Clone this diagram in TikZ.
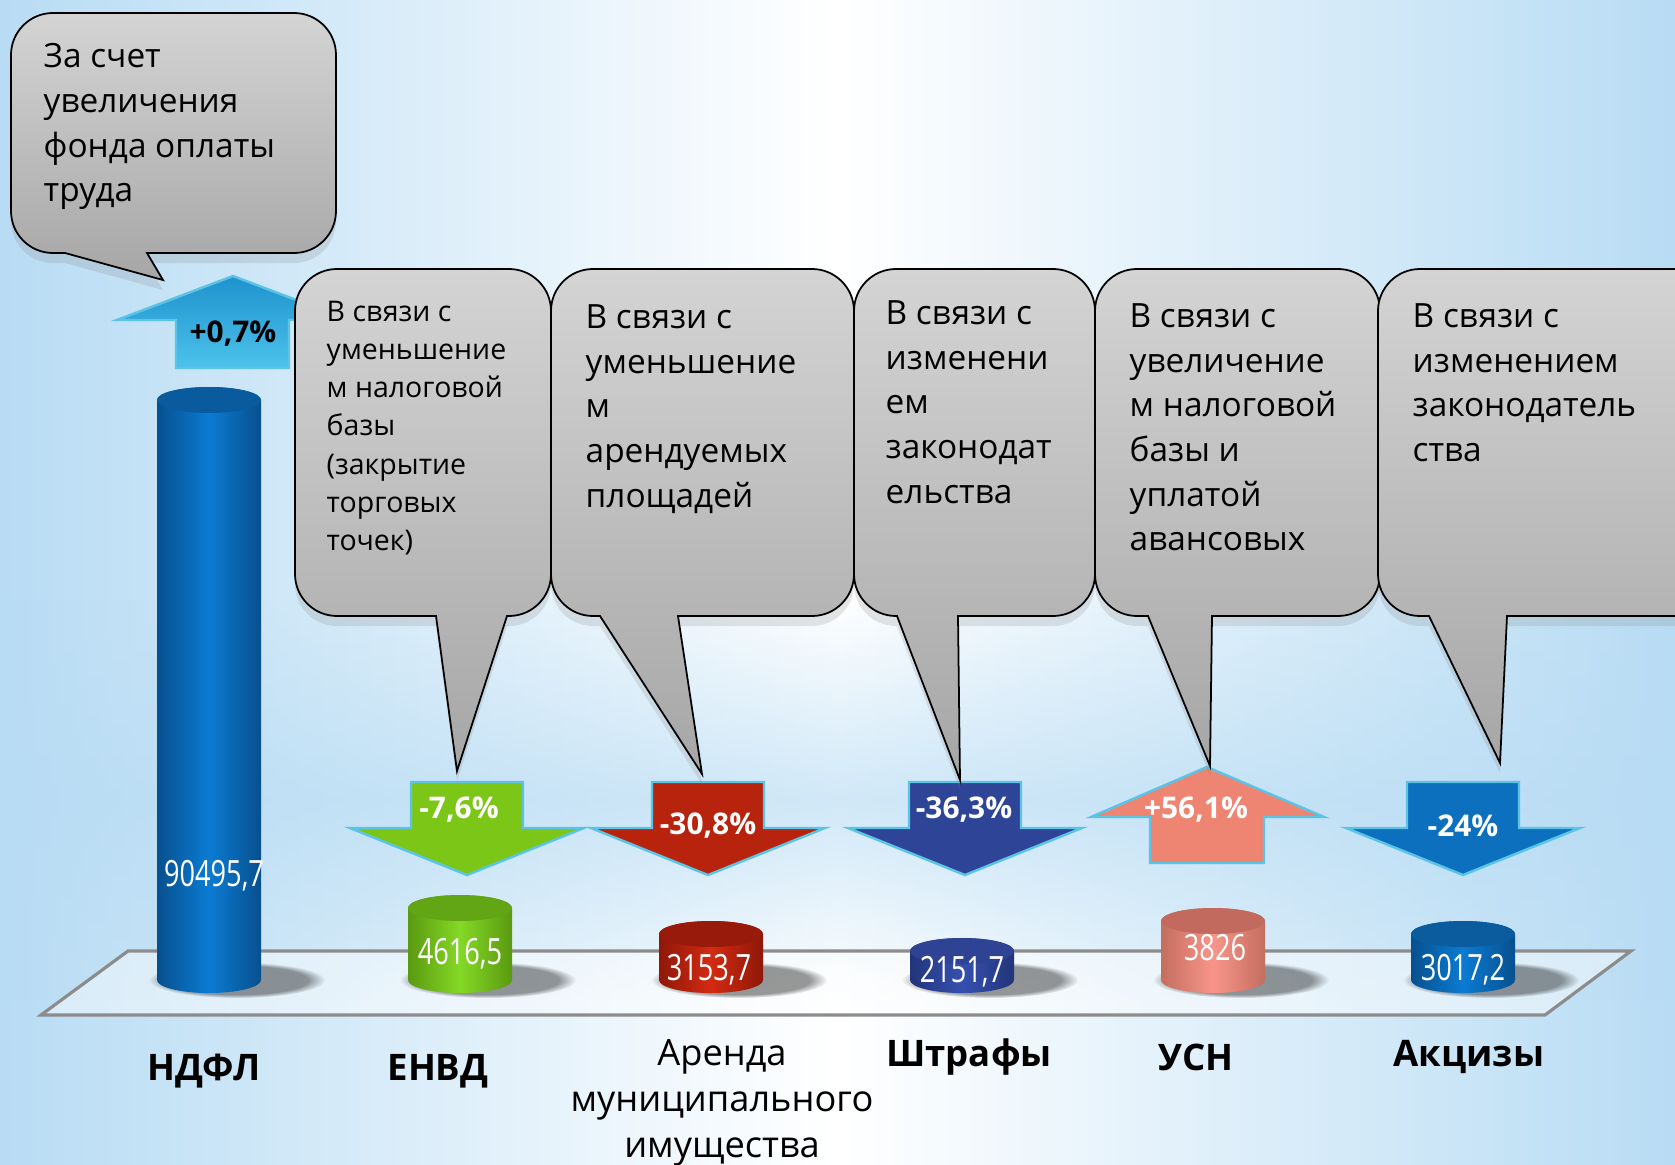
\documentclass[tikz,border=0pt]{standalone}
\usepackage{fontspec}
\setmainfont{Open Sans}
\newfontfamily\valuefont[FakeStretch=0.75]{Open Sans}
\usetikzlibrary{shadows,fadings}

\definecolor{bgblue}{HTML}{B8DCF4}
\definecolor{calltop}{HTML}{D4D4D4}
\definecolor{callbot}{HTML}{A6A6A6}
\definecolor{arrowline}{HTML}{5BC4E6}
\definecolor{floorline}{HTML}{8C8C8C}
% cylinders
\definecolor{ndfl}{HTML}{0B7BD2}\definecolor{darkndfl}{HTML}{07508F}\definecolor{topndfl}{HTML}{0A5A9E}
\definecolor{envd}{HTML}{84D826}\definecolor{darkenvd}{HTML}{5A9A10}\definecolor{topenvd}{HTML}{62A615}
\definecolor{arenda}{HTML}{D42A12}\definecolor{darkarenda}{HTML}{8E1808}\definecolor{toparenda}{HTML}{981A0A}
\definecolor{shtraf}{HTML}{3650B0}\definecolor{darkshtraf}{HTML}{22357A}\definecolor{topshtraf}{HTML}{2E4394}
\definecolor{usn}{HTML}{F8958A}\definecolor{darkusn}{HTML}{C46E60}\definecolor{topusn}{HTML}{C26A5E}
\definecolor{akciz}{HTML}{0B7BD2}\definecolor{darkakciz}{HTML}{07508F}\definecolor{topakciz}{HTML}{0A5C9E}
% arrows
\definecolor{arrndfltop}{HTML}{1E92CC}\definecolor{arrndflbot}{HTML}{4CC2EC}
\definecolor{arrenvd}{HTML}{7CC618}
\definecolor{arrarenda}{HTML}{B8230E}
\definecolor{arrshtraf}{HTML}{2E4597}
\definecolor{arrusn}{HTML}{EE8573}
\definecolor{arrakciz}{HTML}{0C70BF}

\tikzfading[name=midband, top color=transparent!100, bottom color=transparent!100, middle color=transparent!35]

\tikzset{
  calloutbox/.style={draw=black, line width=0.5pt, top color=calltop, bottom color=callbot,
    drop shadow={opacity=0.2, shadow xshift=0pt, shadow yshift=-1mm}},
  calltext/.style={anchor=north west, inner sep=0pt, align=left, font=\fontsize{9.5}{12.7}\selectfont},
  smalltext/.style={calltext, font=\fontsize{8.1}{10.9}\selectfont},
  arrowshape/.style={draw=arrowline, line width=0.7pt},
  pctlabel/.style={text=white, font=\bfseries\fontsize{8.5}{10}\selectfont, inner sep=0pt},
  valuelabel/.style={text=white, font=\valuefont\fontsize{10.3}{12}\selectfont, inner sep=0pt},
  taxlabel/.style={font=\bfseries\fontsize{10.4}{13}\selectfont, inner sep=0pt, align=center},
}

\begin{document}
\begin{tikzpicture}[x=0.1mm,y=-0.1mm]
\useasboundingbox (0,0) rectangle (1675,1165);

% background
\shade[left color=bgblue, right color=bgblue, middle color=white] (0,0) rectangle (1675,1165);
\fill[bgblue, path fading=midband] (0,600) rectangle (1675,1000);

% floor
\filldraw[fill=white, fill opacity=0.45, draw=floorline, line width=0.9pt]
  (128,951) -- (1631,951) -- (1545,1015) -- (41,1015) -- cycle;

% cylinders
\foreach \cx/\ty/\c in {209/400/ndfl, 460/908/envd, 711/934/arenda, 962/951/shtraf, 1213/921/usn, 1463/934/akciz}{
  \fill[black, opacity=0.4, path fading=circle with fuzzy edge 20 percent] (\cx+28,980) ellipse (88 and 18);
  \path[left color=dark\c, right color=dark\c, middle color=\c]
    (\cx-52,\ty) -- (\cx-52,980) arc (180:0:52 and 13) -- (\cx+52,\ty) arc (0:-180:52 and 13) -- cycle;
  \fill[top\c] (\cx,\ty) ellipse (52 and 13);
}

\node[valuelabel] (valndfl) at (214,876) {90495,7};
\node[valuelabel] (valenvd) at (460,954) {4616,5};
\node[valuelabel] (valarenda) at (709,970) {3153,7};
\node[valuelabel] (valshtraf) at (962,972) {2151,7};
\node[valuelabel] (valusn) at (1215,948) {3826};
\node[valuelabel] (valakciz) at (1463,970) {3017,2};

% arrows
\path[arrowshape, top color=arrndfltop, bottom color=arrndflbot]
  (176,368) -- (176,320) -- (117,320) -- (233,276) -- (349,320) -- (289,320) -- (289,368) -- cycle;
\node[pctlabel, text=black] (pctndfl) at (233,334) {+0,7\%};

\filldraw[arrowshape, fill=arrusn]
  (1150,863) -- (1150,817) -- (1091,817) -- (1207,767) -- (1324,817) -- (1264,817) -- (1264,863) -- cycle;
\node[pctlabel] (pctusn) at (1196,810) {+56,1\%};

\foreach \cx/\lx/\ly/\c/\lab in {467/459/810/envd/{-7,6\%}, 708/708/826/arenda/{-30,8\%},
    965/964/810/shtraf/{-36,3\%}, 1463/1463/826/akciz/{-24\%}}{
  \filldraw[arrowshape, fill=arr\c]
    (\cx-56,782) -- (\cx+56,782) -- (\cx+56,828) -- (\cx+117,828) -- (\cx,875) -- (\cx-117,828) -- (\cx-56,828) -- cycle;
  \node[pctlabel] (pct\c) at (\lx,\ly) {\lab};
}

% callouts
\path[calloutbox] (11,211) -- (11,55) arc (180:270:42) -- (294,13) arc (270:360:42) -- (336,211) arc (0:90:42)
  -- (147,253) -- (163,280) -- (65,253) -- (53,253) arc (90:180:42) -- cycle;

\foreach \xa/\xb/\tl/\tr/\tx/\ty in {295/551/436/507/457/771, 551/854/600/678/702/774, 854/1095/897/958/960/780,
    1095/1380/1148/1212/1210/766, 1378/1720/1429/1507/1500/763}{
  \path[calloutbox] (\xa,574) -- (\xa,311) arc (180:270:42) -- (\xb-42,269) arc (270:360:42) -- (\xb,574) arc (0:90:42)
    -- (\tr,616) -- (\tx,\ty) -- (\tl,616) -- (\xa+42,616) arc (90:180:42) -- cycle;
}

\node[calltext] (notendfl) at (43,43) {За счет\\увеличения\\фонда оплаты\\труда};
\node[smalltext] (noteenvd) at (326,300) {В связи с\\уменьшение\\м налоговой\\базы\\(закрытие\\торговых\\точек)};
\node[calltext] (notearenda) at (585,304) {В связи с\\уменьшение\\м\\арендуемых\\площадей};
\node[calltext] (noteshtraf) at (885,300) {В связи с\\изменени\\ем\\законодат\\ельства};
\node[calltext] (noteusn) at (1129,303) {В связи с\\увеличение\\м налоговой\\базы и\\уплатой\\авансовых};
\node[calltext] (noteakciz) at (1412,303) {В связи с\\изменением\\законодатель\\ства};

% category labels
\node[taxlabel] (labndfl) at (204,1071) {НДФЛ};
\node[taxlabel] (labenvd) at (438,1071) {ЕНВД};
\node[taxlabel, font=\fontsize{10.3}{13.1}\selectfont] (labarenda) at (722,1103) {Аренда\\муниципального\\имущества};
\node[taxlabel] (labshtraf) at (969,1057) {Штрафы};
\node[taxlabel] (labusn) at (1196,1057) {УСН};
\node[taxlabel] (labakciz) at (1469,1057) {Акцизы};
\end{tikzpicture}
\end{document}
